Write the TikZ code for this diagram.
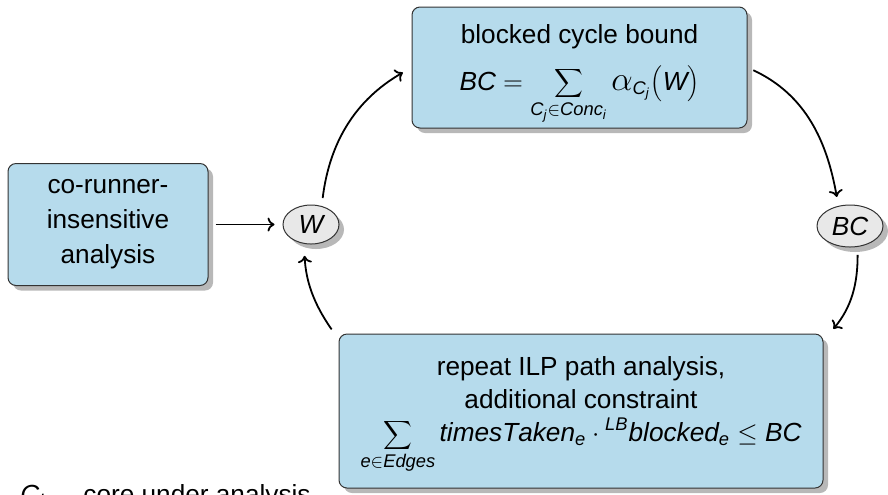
\RequirePackage{fix-cm}
\documentclass[tikz,border=0pt]{standalone}
\usepackage{graphicx}
\usepackage[no-math]{fontspec}
\setmainfont{Liberation Sans}
\setsansfont{Liberation Sans}
\newfontfamily\sfitalic{Liberation Sans}[NFSSFamily=libsans]
\DeclareMathAlphabet{\mathsfit}{TU}{libsans}{m}{it}
\newcommand{\sv}[1]{\mathsfit{#1}}
\newcommand{\bigalpha}{\mathord{\scalebox{1.3}{$\alpha$}}}
\usetikzlibrary{shapes.geometric,shadows,arrows.meta}
\definecolor{boxblue}{HTML}{B6DBEC}

\begin{document}
\begin{tikzpicture}[x=0.5pt,y=-0.5pt,
  every node/.style={font=\fontsize{13.1}{16.5}\selectfont},
  softshadow/.style={general shadow={shadow xshift=2.5pt, shadow yshift=-2.5pt, fill=black!28}},
  procbox/.style={rectangle, rounded corners=4pt, draw=black!80, line width=0.5pt,
    fill=boxblue, align=center, inner sep=0pt, softshadow},
  valnode/.style={ellipse, draw=black!80, line width=0.5pt, fill=gray!18,
    inner sep=0pt, softshadow},
  flow/.style={-{To[length=3.5pt,width=7pt]}, line width=0.9pt}]

\useasboundingbox (0,0) rectangle (888,494);

% analysis steps
\node[procbox, minimum width=100pt, minimum height=61pt] (corunner) at (108,224.5)
  {co-runner-\\[1pt]insensitive\\[1pt]analysis};
\node[procbox, minimum width=167.5pt, minimum height=60.5pt] (bound) at (579.5,67.5)
  {\rule{0pt}{16pt}blocked cycle bound\\[7pt]
   $\displaystyle \sv{BC} = \sum_{\sv{C}_{\sv{j}}\in\sv{Conc}_{\sv{i}}} \bigalpha_{\sv{C}_{\sv{j}}}\Bigl(\sv{W}\Bigr)$};
\node[procbox, minimum width=242pt, minimum height=77pt] (ilp) at (581,411)
  {\rule{0pt}{13.5pt}repeat ILP path analysis,\\additional constraint\\
   $\displaystyle\sum_{\sv{e}\in\sv{Edges}} \sv{timesTaken}_{\sv{e}}\cdot{}^{\sv{LB}}\sv{blocked}_{\sv{e}} \leq \sv{BC}$};

% intermediate values
\node[valnode, minimum width=28pt, minimum height=19.5pt] (W) at (311,224.5) {$\sv{W}$};
\node[valnode, minimum width=33pt, minimum height=21pt] (BC) at (850,226) {$\sv{BC}$};

% data flow
\draw[flow, shorten <=3.5pt, shorten >=4pt] (corunner.east) -- (W.west);
\draw[flow, shorten <=4pt, shorten >=5pt] (W.60) to[out=83,in=210] (bound.west);
\draw[flow, shorten <=3.2pt, shorten >=4.5pt] (bound.east) to[out=-25,in=100] (BC.120);
\draw[flow, shorten <=4pt, shorten >=3pt] (BC.-70) to[out=-90,in=50] ([xshift=3pt]ilp.north east);
\draw[flow, shorten <=2.5pt, shorten >=6pt] ([xshift=-2pt]ilp.north west) to[out=125,in=-87] (W.-110);

% legend
\node[anchor=base west, inner sep=0pt] (cilabel) at (20,503) {$\sv{C}_{\sv{i}}$};
\node[anchor=base west, inner sep=0pt] (cidesc) at (83,503) {core under analysis};
\end{tikzpicture}
\end{document}
